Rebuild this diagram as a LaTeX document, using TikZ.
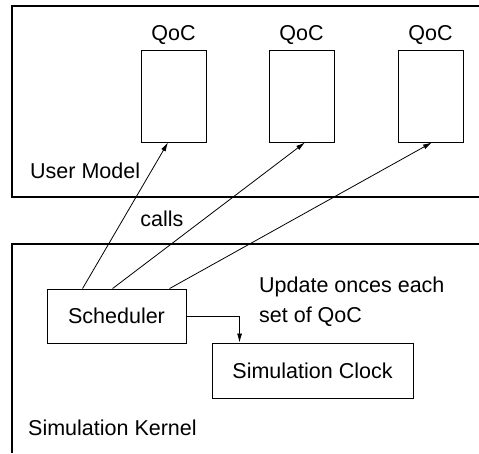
\documentclass[tikz,border=0pt]{standalone}
\usepackage{fontspec}
\setmainfont{Liberation Sans}
\usetikzlibrary{arrows.meta,calc}
\begin{document}
\begin{tikzpicture}[x=1pt,y=-1pt,
  frame/.style={line width=1.1pt},
  box/.style={draw,line width=0.9pt,inner sep=0pt},
  qocbox/.style={box,minimum width=65pt,minimum height=92pt},
  lbl/.style={inner sep=0pt,font=\fontsize{21.5}{26}\selectfont},
  conn/.style={line width=0.8pt,-{Latex[length=9pt,width=5pt]}}]
\useasboundingbox (0,0) rectangle (479,453);
% frames
\coordinate (umtr) at (479,6);
\coordinate (umtl) at (12,6);
\coordinate (umbl) at (12,197);
\coordinate (umbr) at (479,197);
\coordinate (sktr) at (479,244);
\coordinate (sktl) at (12,244);
\coordinate (skbl) at (12,453);
\draw[frame] (umtr) -- (umtl) -- (umbl) -- (umbr);
\draw[frame] (sktr) -- (sktl) -- (skbl);
% QoC boxes
\node[qocbox] (q1) at (173.5,96) {};
\node[qocbox] (q2) at (301.5,96) {};
\node[qocbox] (q3) at (430.5,96) {};
\node[lbl,anchor=base] (l1) at ($(q1.north)+(0,-9)$) {QoC};
\node[lbl,anchor=base] (l2) at ($(q2.north)+(0,-9)$) {QoC};
\node[lbl,anchor=base] (l3) at ($(q3.north)+(0,-9)$) {QoC};
\node[lbl,anchor=base west] (um) at (30,178) {User Model};
\node[lbl,anchor=base] (calls) at (162,226) {calls};
% kernel
\node[box,lbl,draw,minimum width=139pt,minimum height=54pt] (s) at (116.5,316) {Scheduler};
\node[box,lbl,draw,minimum width=201pt,minimum height=55pt] (c) at (312.5,370.5) {Simulation Clock};
\node[lbl,anchor=base west] (u1) at (259,292) {Update onces each};
\node[lbl,anchor=base west] (u2) at (259,322) {set of QoC};
\node[lbl,anchor=base west] (sk) at (28,435) {Simulation Kernel};
% connectors
\draw[conn] ($(s.north west)+(36,0)$) -- ($(q1.south)+(-5.5,0)$);
\draw[conn] ($(s.north west)+(66,0)$) -- ($(q2.south)+(3.5,0)$);
\draw[conn] ($(s.north west)+(123,0)$) -- ($(q3.south)+(1.5,0)$);
\draw[conn] (s.east) -| ($(c.north west)+(28,0)$);
\end{tikzpicture}
\end{document}
